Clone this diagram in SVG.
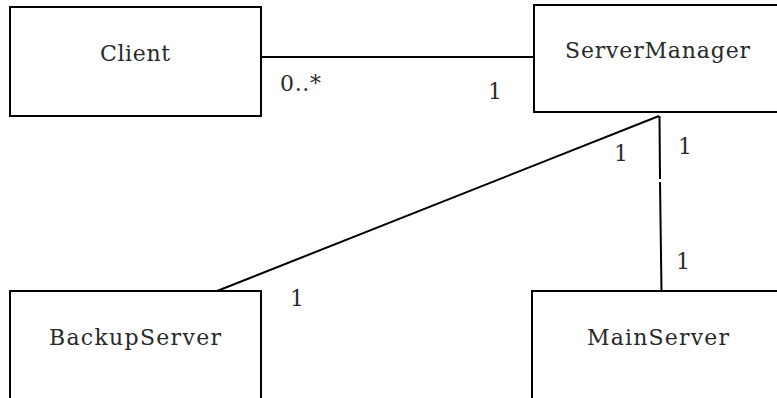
<svg xmlns="http://www.w3.org/2000/svg" width="777" height="398" viewBox="0 0 777 398">
  <style>
    .box { fill: #ffffff; stroke: #000000; stroke-width: 2; }
    .link { fill: none; stroke: #000000; stroke-width: 2; }
  </style>
  <rect width="777" height="398" fill="#ffffff"/>

  <g font-family="DejaVu Serif, serif" font-size="22" fill="#2a2a2a">
  <g id="connectors">
    <line class="link" x1="261" y1="57" x2="534" y2="57"/>
    <line class="link" x1="659" y1="116" x2="217" y2="291"/>
    <line class="link" x1="659.5" y1="116" x2="660" y2="179"/>
    <line class="link" x1="660" y1="182" x2="661.5" y2="291"/>
    <text x="280" y="91" textLength="41" lengthAdjust="spacing">0..*</text>
    <text x="488" y="99">1</text>
    <text x="614" y="161">1</text>
    <text x="678" y="154">1</text>
    <text x="676" y="269">1</text>
    <text x="290" y="306">1</text>
  </g>

  <g id="client">
    <rect class="box" x="10" y="7" width="251" height="109"/>
    <text x="100" y="61" textLength="70" lengthAdjust="spacing">Client</text>
  </g>

  <g id="server-manager">
    <rect class="box" x="534" y="5" width="260" height="107"/>
    <text x="565" y="58" textLength="185" lengthAdjust="spacing">ServerManager</text>
  </g>

  <g id="backup-server">
    <rect class="box" x="10" y="291" width="251" height="120"/>
    <text x="49" y="345" textLength="172" lengthAdjust="spacing">BackupServer</text>
  </g>

  <g id="main-server">
    <rect class="box" x="532" y="291" width="260" height="120"/>
    <text x="587" y="345" textLength="142" lengthAdjust="spacing">MainServer</text>
  </g>
  </g>
</svg>
